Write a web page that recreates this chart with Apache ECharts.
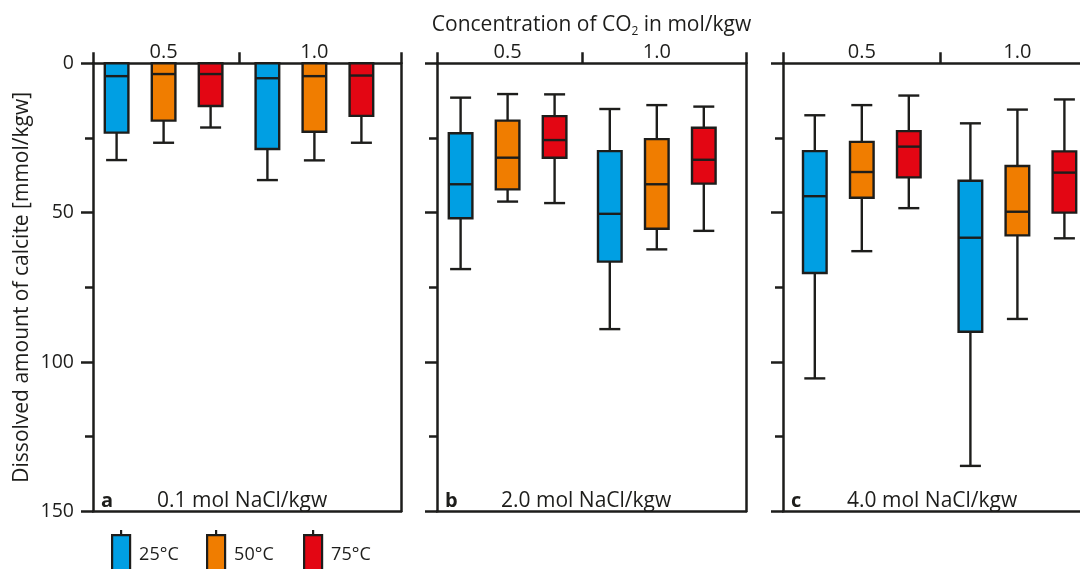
<!DOCTYPE html>
<html><head><meta charset="utf-8">
<script src="https://cdn.jsdelivr.net/npm/echarts@6/dist/echarts.min.js"></script>
<style>html,body{margin:0;padding:0;background:#fff}#c{width:1080px;height:569px}</style>
</head><body><div id="c"></div>
<script>
// ---------------- data ----------------
const co2Levels = ['0.5', '1.0'];            // CO2 concentration in mol/kgw
const temperatures = ['25°C', '50°C', '75°C'];
const panelLetters = ['a', 'b', 'c'];
const naclLabels = ['0.1 mol NaCl/kgw', '2.0 mol NaCl/kgw', '4.0 mol NaCl/kgw'];
const yTickValues = [0, 50, 100, 150];
// rows: [min, Q1, median, Q3, max] for CO2 = 0.5 and CO2 = 1.0 (mmol/kgw)
const a25 = [[0, 0, 4.3, 23.2, 32.4], [0, 0, 5.0, 28.7, 39.1]];
const a50 = [[0, 0, 3.6, 19.2, 26.6], [0, 0, 4.3, 22.9, 32.5]];
const a75 = [[0, 0, 3.6, 14.3, 21.5], [0, 0, 4.1, 17.6, 26.6]];
const b25 = [[11.5, 23.4, 40.5, 51.9, 68.9], [15.3, 29.4, 50.4, 66.4, 89.0]];
const b50 = [[10.3, 19.2, 31.6, 42.2, 46.3], [14.0, 25.4, 40.5, 55.4, 62.3]];
const b75 = [[10.4, 17.7, 25.7, 31.6, 46.8], [14.5, 21.6, 32.3, 40.3, 56.1]];
const c25 = [[17.4, 29.4, 44.5, 70.2, 105.5], [20.1, 39.3, 58.4, 89.9, 134.8]];
const c50 = [[14.0, 26.3, 36.4, 45.0, 62.9], [15.5, 34.4, 49.7, 57.6, 85.6]];
const c75 = [[10.8, 22.7, 27.9, 38.2, 48.5], [12.1, 29.5, 36.6, 50.0, 58.6]];

// ---------------- layout / style ----------------
const DATA = [[a25, a50, a75], [b25, b50, b75], [c25, c50, c75]];
const COLORS = ['#009fe3', '#f07d00', '#e30613'];
const LINE = '#1d1d1b';
const TEXT = '#1d1d1b';
const FONT = '"Open Sans", "Noto Sans", sans-serif';
const PANEL_LEFT = [93, 437, 783];
const PANEL_W = [308, 309, 309];
const PLOT_TOP = 63.3, PLOT_H = 448;
const GROUP_CENTER = [[70.6, 221.4], [70.6, 219.8], [78.8, 234.4]];
const MID_TICK = [146, 145.3, 157];
const BOX_STEP = 47;
const BOX_HALF = 11.8, CAP_HALF = 10.5;
const MARK_W = 2.4;

function makeRenderer(p, s) {
  return function (params, api) {
    const g = api.value(0);
    const xc = GROUP_CENTER[p][g] + (s - 1) * BOX_STEP;
    const vMin = api.value(1), q1 = api.value(2), med = api.value(3), q3 = api.value(4), vMax = api.value(5);
    const pMin = api.coord([xc, vMin]), pQ1 = api.coord([xc, q1]), pMed = api.coord([xc, med]);
    const pQ3 = api.coord([xc, q3]), pMax = api.coord([xc, vMax]);
    const x = pMed[0];
    const ls = { stroke: LINE, lineWidth: MARK_W };
    const ch = [];
    if (vMin < q1) {
      ch.push({ type: 'line', shape: { x1: x, y1: pMin[1], x2: x, y2: pQ1[1] }, style: ls });
      ch.push({ type: 'line', shape: { x1: x - CAP_HALF, y1: pMin[1], x2: x + CAP_HALF, y2: pMin[1] }, style: ls });
    }
    if (vMax > q3) {
      ch.push({ type: 'line', shape: { x1: x, y1: pQ3[1], x2: x, y2: pMax[1] }, style: ls });
      ch.push({ type: 'line', shape: { x1: x - CAP_HALF, y1: pMax[1], x2: x + CAP_HALF, y2: pMax[1] }, style: ls });
    }
    ch.push({ type: 'rect', shape: { x: x - BOX_HALF, y: pQ1[1], width: 2 * BOX_HALF, height: pQ3[1] - pQ1[1] },
      style: { fill: api.visual('color'), stroke: LINE, lineWidth: MARK_W } });
    ch.push({ type: 'line', shape: { x1: x - BOX_HALF, y1: pMed[1], x2: x + BOX_HALF, y2: pMed[1] }, style: ls });
    return { type: 'group', children: ch };
  };
}

const axisLineStyle = { color: LINE, width: 2.5 };
const grids = [], xAxes = [], yAxes = [], series = [], graphics = [];
for (let p = 0; p < 3; p++) {
  grids.push({ left: PANEL_LEFT[p], top: PLOT_TOP, width: PANEL_W[p], height: PLOT_H, outerBoundsMode: 'none', containLabel: false });
  xAxes.push({
    gridIndex: p, type: 'value', position: 'top', min: 0, max: PANEL_W[p],
    axisLine: { show: true, onZero: false, lineStyle: axisLineStyle },
    axisTick: { show: true, customValues: [0, MID_TICK[p], PANEL_W[p]], length: 11, inside: false, lineStyle: axisLineStyle },
    axisLabel: {
      show: true, customValues: GROUP_CENTER[p], margin: 1, fontSize: 20, fontFamily: FONT, color: TEXT,
      formatter: (v) => co2Levels[GROUP_CENTER[p].indexOf(v)] || ''
    },
    splitLine: { show: false },
    name: p === 1 ? '{a|Concentration of CO}{s|2}{a| in mol/kgw}' : '',
    nameLocation: 'middle', nameGap: 25,
    nameTextStyle: {
      fontSize: 21, fontFamily: FONT, color: TEXT,
      rich: {
        a: { fontSize: 21, fontFamily: FONT, color: TEXT, lineHeight: 25 },
        s: { fontSize: 12, fontFamily: FONT, color: TEXT, lineHeight: 14, verticalAlign: 'bottom' }
      }
    }
  });
  xAxes.push({
    gridIndex: p, type: 'value', position: 'bottom', min: 0, max: PANEL_W[p],
    axisLine: { show: true, onZero: false, lineStyle: axisLineStyle },
    axisTick: { show: false }, axisLabel: { show: false }, splitLine: { show: false }
  });
  yAxes.push({
    gridIndex: p, type: 'value', inverse: true, min: 0, max: 150, interval: 50, position: 'left',
    axisLine: { show: true, onZero: false, lineStyle: axisLineStyle },
    axisTick: { show: true, length: 12, lineStyle: axisLineStyle },
    axisLabel: { show: p === 0, margin: 19, fontSize: 19.5, fontFamily: FONT, color: TEXT,
      formatter: (v) => (yTickValues.indexOf(v) >= 0 ? String(v) : '') },
    splitLine: { show: false },
    name: p === 0 ? 'Dissolved amount of calcite [mmol/kgw]' : '',
    nameLocation: 'middle', nameGap: 60, nameRotate: 90,
    nameTextStyle: { fontSize: 21, fontFamily: FONT, color: TEXT }
  });
  yAxes.push({
    gridIndex: p, type: 'value', inverse: true, min: 0, max: 150, interval: 25, position: 'left',
    axisLine: { show: false, onZero: false },
    axisTick: { show: true, length: 8, lineStyle: axisLineStyle },
    axisLabel: { show: false }, splitLine: { show: false }
  });
  yAxes.push({
    gridIndex: p, type: 'value', inverse: true, min: 0, max: 150, position: 'right',
    axisLine: { show: true, onZero: false, lineStyle: axisLineStyle },
    axisTick: { show: false }, axisLabel: { show: false }, splitLine: { show: false }
  });
  for (let s = 0; s < 3; s++) {
    series.push({
      type: 'custom', name: temperatures[s], xAxisIndex: p * 2, yAxisIndex: p * 3,
      itemStyle: { color: COLORS[s] },
      data: DATA[p][s].map((d, g) => [g].concat(d)),
      encode: { x: 0, y: [1, 2, 3, 4, 5] },
      renderItem: makeRenderer(p, s), z: 3
    });
  }
  graphics.push({ type: 'text', x: PANEL_LEFT[p] + 8, y: 501, z: 10,
    style: { text: panelLetters[p], fontSize: 20, fontWeight: 'bold', fontFamily: FONT, fill: TEXT, verticalAlign: 'middle' } });
  graphics.push({ type: 'text', x: PANEL_LEFT[p] + 64, y: 501, z: 10,
    style: { text: naclLabels[p], fontSize: 21, fontFamily: FONT, fill: TEXT, verticalAlign: 'middle' } });
}

const LEGEND_LEFT = [111, 206, 303];
const legends = temperatures.map((t, i) => ({
  data: [t], left: LEGEND_LEFT[i], top: 529, padding: 0, orient: 'horizontal',
  itemWidth: 18, itemHeight: 50, selectedMode: false, symbolKeepAspect: false,
  icon: 'path://M9,0L9,5M0,5L18,5L18,50L0,50Z',
  itemStyle: { borderColor: LINE, borderWidth: 2.2 },
  textStyle: { fontSize: 18, fontFamily: FONT, color: TEXT, padding: [0, 0, 0, 4] }
}));

const chart = echarts.init(document.getElementById('c'), null, { renderer: 'canvas' });
chart.setOption({
  animation: false,
  backgroundColor: '#fff',
  grid: grids, xAxis: xAxes, yAxis: yAxes, series: series,
  legend: legends, graphic: graphics
});
</script></body></html>
